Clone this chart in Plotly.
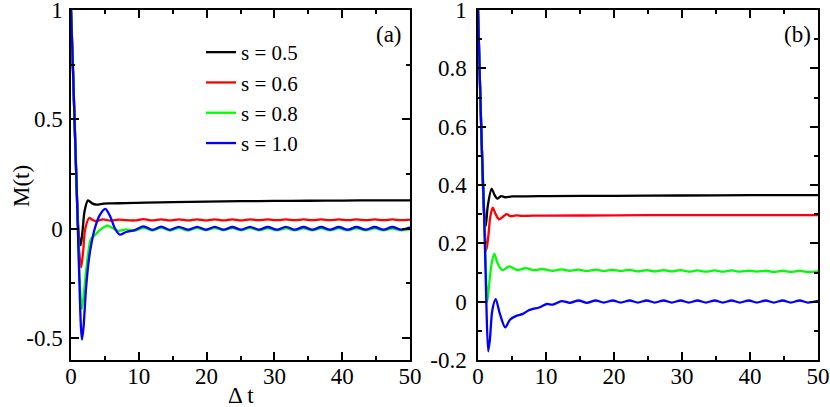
import plotly.graph_objects as go

# ---------------- data ----------------
series_names = ["s = 0.5", "s = 0.6", "s = 0.8", "s = 1.0"]
series_colors = ["#000000", "#ff0000", "#00ff00", "#0000ff"]

# panel (a) shared tail times (oscillating region)
t_a_tail = [9.4, 10.7, 12.0, 13.3, 14.6, 15.9, 17.3, 18.6, 19.9, 21.2, 22.5, 23.8,
            25.1, 26.4, 27.7, 29.0, 30.4, 31.7, 33.0, 34.3, 35.6, 36.9, 38.2, 39.5,
            40.8, 42.1, 43.5, 44.8, 46.1, 47.4, 48.7, 50.0]

a_t_05 = [0, 0.3, 0.6, 0.9, 1.15, 1.43, 1.7, 2.0, 2.5, 3.1, 3.75, 4.8, 6.0, 8.0,
          11, 15, 20, 25, 30, 35, 40, 45, 50]
a_m_05 = [1.0, 0.72, 0.42, 0.13, -0.03, -0.075, -0.01, 0.08, 0.13, 0.116, 0.11, 0.115,
          0.116, 0.117, 0.119, 0.122, 0.124, 0.126, 0.127, 0.128, 0.129, 0.13, 0.13]

a_t_06 = [0, 0.3, 0.6, 0.9, 1.2, 1.5, 1.8, 2.1, 2.7, 3.2, 3.75, 4.7, 5.8, 7.0, 8.1] + t_a_tail
a_m_06 = [1.0, 0.72, 0.42, 0.12, -0.1, -0.177, -0.1, 0.0, 0.049, 0.04, 0.035, 0.043,
          0.037, 0.042, 0.039,
          0.038, 0.044, 0.038, 0.043, 0.038, 0.043, 0.038, 0.043, 0.038, 0.043, 0.038,
          0.043, 0.038, 0.043, 0.039, 0.043, 0.039, 0.043, 0.039, 0.043, 0.039, 0.043,
          0.039, 0.043, 0.039, 0.043, 0.039, 0.043, 0.039, 0.043, 0.039, 0.042]

a_t_08 = [0, 0.3, 0.6, 0.9, 1.2, 1.4, 1.6, 1.85, 2.2, 2.5, 2.9, 3.5, 4.3, 5.35, 6.2,
          7.0, 8.1] + t_a_tail
a_m_08 = [1.0, 0.72, 0.42, 0.12, -0.17, -0.3, -0.367, -0.31, -0.2, -0.12, -0.05, -0.03,
          -0.005, 0.014, 0.002, -0.01, -0.003,
          -0.009, 0.004, -0.008, 0.004, -0.008, 0.003, -0.008, 0.003, -0.007, 0.003,
          -0.007, 0.003, -0.007, 0.003, -0.007, 0.002, -0.007, 0.002, -0.007, 0.002,
          -0.007, 0.002, -0.007, 0.002, -0.007, 0.002, -0.007, 0.002, -0.007, 0.001,
          -0.007, -0.002]

a_t_10 = [0, 0.3, 0.6, 0.9, 1.2, 1.45, 1.62, 1.85, 2.2, 2.6, 3.0, 3.5, 4.2, 5.06, 5.8,
          6.5, 7.2, 8.1] + t_a_tail
a_m_10 = [1.0, 0.72, 0.42, 0.12, -0.2, -0.44, -0.507, -0.45, -0.28, -0.15, -0.07, 0.0,
          0.06, 0.091, 0.055, 0.0, -0.027, -0.015,
          -0.006, 0.011, -0.005, 0.010, -0.005, 0.009, -0.004, 0.009, -0.004, 0.009,
          -0.004, 0.008, -0.004, 0.009, -0.004, 0.008, -0.004, 0.009, -0.004, 0.008,
          -0.004, 0.008, -0.004, 0.008, -0.004, 0.008, -0.004, 0.008, -0.004, 0.008,
          -0.004, 0.007]

# panel (b)
t_b_tail = [11.0, 12.3, 13.5, 14.8, 16.0, 17.3, 18.5, 19.8, 21.0, 22.3, 23.5, 24.8,
            26.0, 27.3, 28.5, 29.8, 31.0, 32.3, 33.5, 34.8, 36.0, 37.3, 38.5, 39.8,
            41.0, 42.3, 43.5, 44.8, 46.0, 47.3, 48.5, 50.0]

b_t_05 = [0, 0.3, 0.6, 0.9, 1.13, 1.45, 2.0, 2.45, 2.85, 3.4, 4.0, 5.0, 7, 10, 20, 30, 40, 50]
b_m_05 = [1.0, 0.74, 0.5, 0.3, 0.259, 0.33, 0.387, 0.365, 0.353, 0.362, 0.358, 0.361,
          0.361, 0.362, 0.363, 0.364, 0.365, 0.365]

b_t_06 = [0, 0.3, 0.6, 0.9, 1.05, 1.22, 1.5, 1.8, 2.16, 2.6, 3.1, 3.6, 4.2, 4.8, 5.6,
          6.5, 8, 10, 20, 30, 40, 50]
b_m_06 = [1.0, 0.74, 0.5, 0.3, 0.22, 0.176, 0.22, 0.29, 0.322, 0.3, 0.282, 0.29, 0.3,
          0.293, 0.296, 0.294, 0.295, 0.295, 0.296, 0.297, 0.297, 0.297]

b_t_08 = [0, 0.3, 0.6, 0.9, 1.15, 1.37, 1.6, 2.0, 2.4, 2.9, 3.6, 4.6, 5.8, 7.0, 8.2,
          9.4] + t_b_tail
b_m_08 = [1.0, 0.74, 0.5, 0.3, 0.12, 0.0, 0.05, 0.13, 0.165, 0.13, 0.108, 0.121, 0.108,
          0.115, 0.108, 0.112,
          0.106, 0.111, 0.106, 0.110, 0.105, 0.110, 0.105, 0.109, 0.105, 0.109, 0.104,
          0.108, 0.104, 0.108, 0.104, 0.108, 0.103, 0.107, 0.103, 0.107, 0.103, 0.107,
          0.103, 0.106, 0.103, 0.106, 0.102, 0.106, 0.102, 0.106, 0.102, 0.104]

b_t_10 = [0, 0.3, 0.6, 0.9, 1.2, 1.5, 1.75, 2.1, 2.6, 3.2, 4.0, 4.7, 5.7, 6.6, 7.4, 8.1,
          9.0, 10.1] + t_b_tail
b_m_10 = [1.0, 0.74, 0.5, 0.3, 0.02, -0.17, -0.13, -0.03, 0.009, -0.04, -0.088, -0.062,
          -0.048, -0.042, -0.03, -0.025, -0.02, -0.008,
          -0.010, 0.002, -0.004, 0.004, -0.004, 0.004, -0.003, 0.004, -0.003, 0.004,
          -0.003, 0.004, -0.003, 0.004, -0.003, 0.004, -0.003, 0.004, -0.003, 0.004,
          -0.003, 0.004, -0.003, 0.004, -0.003, 0.004, -0.003, 0.004, -0.003, 0.004,
          -0.003, 0.003]

panel_a = [(a_t_05, a_m_05), (a_t_06, a_m_06), (a_t_08, a_m_08), (a_t_10, a_m_10)]
panel_b = [(b_t_05, b_m_05), (b_t_06, b_m_06), (b_t_08, b_m_08), (b_t_10, b_m_10)]
for t, m in panel_a + panel_b:
    assert len(t) == len(m), (len(t), len(m))

x_ticks = [0, 10, 20, 30, 40, 50]
x_ticktext = ["0", "10", "20", "30", "40", "50"]
x_minor = [5, 15, 25, 35, 45]
ya_ticks = [-0.5, 0, 0.5, 1]
ya_ticktext = ["-0.5", "0", "0.5", "1"]
ya_minor = [-0.25, 0.25, 0.75]
yb_ticks = [-0.2, 0, 0.2, 0.4, 0.6, 0.8, 1]
yb_ticktext = ["-0.2", "0", "0.2", "0.4", "0.6", "0.8", "1"]
yb_minor = [-0.1, 0.1, 0.3, 0.5, 0.7, 0.9]

# ---------------- figure ----------------
W, H = 830, 407
FONT = "Liberation Serif, Times New Roman, DejaVu Serif, serif"
FS = 23

fig = go.Figure()
for (t, m), name, col in zip(panel_a, series_names, series_colors):
    fig.add_trace(go.Scatter(x=t, y=m, mode="lines", name=name,
                             line=dict(color=col, width=2.3, shape="spline", smoothing=0.8),
                             xaxis="x", yaxis="y", showlegend=True))
for (t, m), name, col in zip(panel_b, series_names, series_colors):
    fig.add_trace(go.Scatter(x=t, y=m, mode="lines", name=name,
                             line=dict(color=col, width=2.3, shape="spline", smoothing=0.8),
                             xaxis="x2", yaxis="y2", showlegend=False))

def px_x(p):
    return p / W

def px_y(p):
    return 1 - p / H

def axis(rng, tv, tt, minor_vals, domain, anchor, standoff):
    return dict(range=rng, domain=domain, anchor=anchor,
                tickmode="array", tickvals=tv, ticktext=tt,
                showline=True, linecolor="black", linewidth=1.5, mirror="ticks",
                ticks="inside", ticklen=8, tickwidth=1.5, tickcolor="black",
                minor=dict(tickmode="array", tickvals=minor_vals, ticks="inside",
                           ticklen=4, tickwidth=1.5, tickcolor="black"),
                showgrid=False, zeroline=False, automargin=False,
                ticklabelstandoff=standoff, ticklabeloverflow="allow",
                tickfont=dict(family=FONT, size=FS, color="black"))

xa_dom = [px_x(71), px_x(410)]
xb_dom = [px_x(478), px_x(818)]
y_dom = [px_y(360), px_y(10)]

def note(text, x, y, angle=0):
    return dict(text=text, x=px_x(x), y=px_y(y), xref="paper", yref="paper",
                xanchor="center", yanchor="middle", textangle=angle,
                showarrow=False, font=dict(family=FONT, size=FS, color="black"))

fig.update_layout(
    width=W, height=H, autosize=False,
    margin=dict(l=0, r=0, t=0, b=0, pad=0),
    plot_bgcolor="white", paper_bgcolor="white",
    xaxis=axis([0, 50], x_ticks, x_ticktext, x_minor, xa_dom, "y", -5),
    yaxis=axis([-0.6, 1], ya_ticks, ya_ticktext, ya_minor, y_dom, "x", 2),
    xaxis2=axis([0, 50], x_ticks, x_ticktext, x_minor, xb_dom, "y2", -5),
    yaxis2=axis([-0.2, 1], yb_ticks, yb_ticktext, yb_minor, y_dom, "x2", 5),
    legend=dict(x=px_x(201), y=px_y(32), xanchor="left", yanchor="top",
                bgcolor="rgba(0,0,0,0)", borderwidth=0,
                font=dict(family=FONT, size=21, color="black"),
                tracegroupgap=0),
    annotations=[
        note("(a)", 389, 35),
        note("(b)", 797, 35),
        note("M(t)", 21, 186, -90),
        note("Δ t", 241, 395),
    ],
)

fig.write_html("out.html",
               config={"displayModeBar": False},
               post_script="document.body.style.margin='0px';"
                           "document.body.style.padding='0px';"
                           "document.body.style.overflow='hidden';")
